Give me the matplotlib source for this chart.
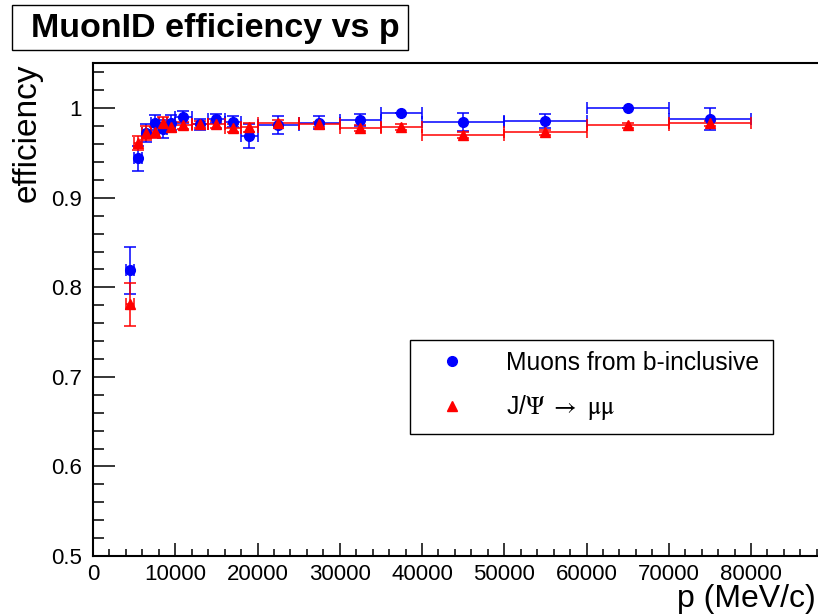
#imports
import matplotlib
matplotlib.use("Agg")
from matplotlib import pyplot as plt
from matplotlib.patches import Rectangle
from matplotlib.lines import Line2D
from matplotlib.ticker import MultipleLocator, AutoMinorLocator, FuncFormatter

plt.rcParams['font.family'] = ['Liberation Sans', 'DejaVu Sans']
plt.rcParams['mathtext.fontset'] = 'stix'

#bin centres and half widths (MeV/c), shared by both samples
p_centre = [4500, 5500, 6500, 7500, 8500, 9500, 11000, 13000, 15000, 17000, 19000,
            22500, 27500, 32500, 37500, 45000, 55000, 65000, 75000]
p_halfwidth = [500, 500, 500, 500, 500, 500, 1000, 1000, 1000, 1000, 1000,
               2500, 2500, 2500, 2500, 5000, 5000, 5000, 5000]

#muons from b-inclusive
eff_b = [0.819, 0.944, 0.972, 0.984, 0.977, 0.984, 0.990, 0.982, 0.988, 0.985, 0.969,
         0.981, 0.984, 0.987, 0.995, 0.985, 0.986, 1.000, 0.988]
err_b = [0.026, 0.014, 0.010, 0.008, 0.010, 0.008, 0.007, 0.006, 0.005, 0.006, 0.013,
         0.010, 0.007, 0.007, 0.000, 0.010, 0.008, 0.000, 0.012]

#J/psi -> mu mu
eff_j = [0.781, 0.961, 0.972, 0.973, 0.984, 0.979, 0.981, 0.982, 0.982, 0.978, 0.979,
         0.984, 0.982, 0.978, 0.979, 0.970, 0.973, 0.981, 0.983]
err_j = [0.024, 0.008, 0.008, 0.006, 0.006, 0.006, 0.004, 0.004, 0.004, 0.004, 0.005,
         0.003, 0.003, 0.003, 0.003, 0.003, 0.003, 0.003, 0.003]

label_b = 'Muons from b-inclusive'
label_j = r'J/$\Psi$ $\rightarrow$ $\mathrm{\mu\mu}$'

W, H = 818, 616
fig = plt.figure(figsize=(W / 100, H / 100), dpi=100)
#axes frame: left edge at x=93px, bottom at y=556px, top at y=63px, runs off the right side
ax = fig.add_axes([93 / W, 1 - 556 / H, 737 / W, 493 / H])

common = dict(linestyle='none', capsize=4.5, elinewidth=1.1, capthick=1.1)
ax.errorbar(p_centre, eff_b, xerr=p_halfwidth, yerr=err_b, marker='o', ms=7,
            color='blue', **common)
ax.errorbar(p_centre, eff_j, xerr=p_halfwidth, yerr=err_j, marker='^', ms=7.5,
            color='red', **common)

ax.set_xlim(0, 89600)
ax.set_ylim(0.5, 1.0505)

#axis ticks ROOT style (inside, 5 subdivisions)
ax.xaxis.set_major_locator(MultipleLocator(10000))
ax.xaxis.set_minor_locator(AutoMinorLocator(5))
ax.yaxis.set_major_locator(MultipleLocator(0.1))
ax.yaxis.set_minor_locator(AutoMinorLocator(5))
ax.yaxis.set_major_formatter(FuncFormatter(lambda v, pos: '%g' % round(v, 3)))
ax.tick_params(axis='both', which='both', direction='in', width=1.1, colors='black',
               labelsize=16)
ax.tick_params(axis='x', which='major', length=9.4, pad=6)
ax.tick_params(axis='x', which='minor', length=4.7)
ax.tick_params(axis='y', which='major', length=16, pad=8)
ax.tick_params(axis='y', which='minor', length=8)
ax.spines['right'].set_visible(False)
for s in ['left', 'bottom', 'top']:
    ax.spines[s].set_linewidth(1.5)

#axis titles
fig.text(27 / W, 1 - 63 / H, 'efficiency', rotation=90, ha='center', va='top', fontsize=24)
fig.text(816 / W, 2 / H, 'p (MeV/c)', ha='right', va='bottom', fontsize=23)

#legend with markers only
handles = [Line2D([], [], linestyle='none', marker='o', ms=7, color='blue'),
           Line2D([], [], linestyle='none', marker='^', ms=7, color='red')]
leg = ax.legend(handles, [label_b, label_j], loc='upper left',
                bbox_to_anchor=(410 / W, 1 - 433 / H, 363 / W, 93 / H),
                bbox_transform=fig.transFigure, mode='expand', borderaxespad=0,
                fontsize=17.7, frameon=True, fancybox=False, framealpha=1,
                edgecolor='black', borderpad=0.45, labelspacing=0.75,
                handlelength=2.5, handletextpad=0.95)
leg.get_frame().set_linewidth(1.0)

#title box
fig.patches.append(Rectangle((12 / W, 1 - 50 / H), 396 / W, 45 / H, transform=fig.transFigure,
                             facecolor='white', edgecolor='black', linewidth=1.0))
fig.text(215 / W, 1 - 28 / H, 'MuonID efficiency vs p', ha='center', va='center',
         fontsize=24.5, fontweight='bold')

fig.savefig('out.png', dpi=100)
